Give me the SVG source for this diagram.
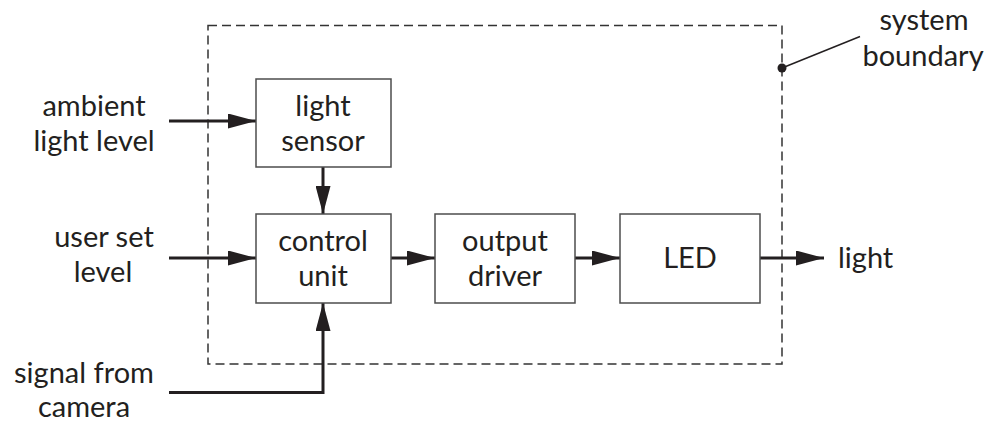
<svg xmlns="http://www.w3.org/2000/svg" width="990" height="423" viewBox="0 0 990 423">
<defs>
<style>
text{font-family:Lato,"Open Sans","DejaVu Sans",sans-serif;font-size:29px;fill:#231f20;text-anchor:middle}
.box{fill:#fff;stroke:#4d4d4d;stroke-width:1.5}
.wire{fill:none;stroke:#231f20;stroke-width:3}
.bound{fill:none;stroke:#333;stroke-width:1.5;stroke-dasharray:9 5}
</style>
<marker id="ah" markerWidth="28" markerHeight="15" refX="28" refY="7.5" orient="auto" markerUnits="userSpaceOnUse">
<path d="M0,0 L28,7.5 L0,15 Z" fill="#231f20"/>
</marker>
</defs>
<rect width="990" height="423" fill="#fff"/>
<g id="boundary">
<rect class="bound" x="208" y="25.5" width="574" height="338.5"/>
<line x1="782" y1="68" x2="860" y2="36.5" stroke="#231f20" stroke-width="1.5"/>
<circle cx="782" cy="68" r="4.5" fill="#231f20"/>
<text x="924" y="30">system</text>
<text x="923" y="66">boundary</text>
</g>
<g id="connectors">
<line class="wire" x1="169" y1="121" x2="256" y2="121" marker-end="url(#ah)"/>
<line class="wire" x1="323" y1="167" x2="323" y2="214" marker-end="url(#ah)"/>
<line class="wire" x1="169" y1="258" x2="256" y2="258" marker-end="url(#ah)"/>
<line class="wire" x1="391" y1="258" x2="435" y2="258" marker-end="url(#ah)"/>
<line class="wire" x1="575" y1="258" x2="620" y2="258" marker-end="url(#ah)"/>
<line class="wire" x1="760" y1="258" x2="824" y2="258" marker-end="url(#ah)"/>
<polyline class="wire" points="169,392.5 323,392.5 323,303" marker-end="url(#ah)"/>
</g>
<g id="light-sensor">
<rect class="box" x="256" y="79" width="135" height="88"/>
<text x="323" y="115.5">light</text>
<text x="323" y="151">sensor</text>
</g>
<g id="control-unit">
<rect class="box" x="256" y="214" width="135" height="89"/>
<text x="323" y="251">control</text>
<text x="323" y="286">unit</text>
</g>
<g id="output-driver">
<rect class="box" x="435" y="214" width="140" height="89"/>
<text x="505" y="251">output</text>
<text x="505" y="286">driver</text>
</g>
<g id="led">
<rect class="box" x="620" y="214" width="140" height="89"/>
<text x="690" y="268">LED</text>
</g>
<g id="inputs">
<text x="94" y="115.5">ambient</text>
<text x="94" y="150.5">light level</text>
<text x="104" y="246.5">user set</text>
<text x="103" y="282">level</text>
<text x="84" y="383">signal from</text>
<text x="84" y="417">camera</text>
<text x="838" y="268" style="text-anchor:start">light</text>
</g>
</svg>
